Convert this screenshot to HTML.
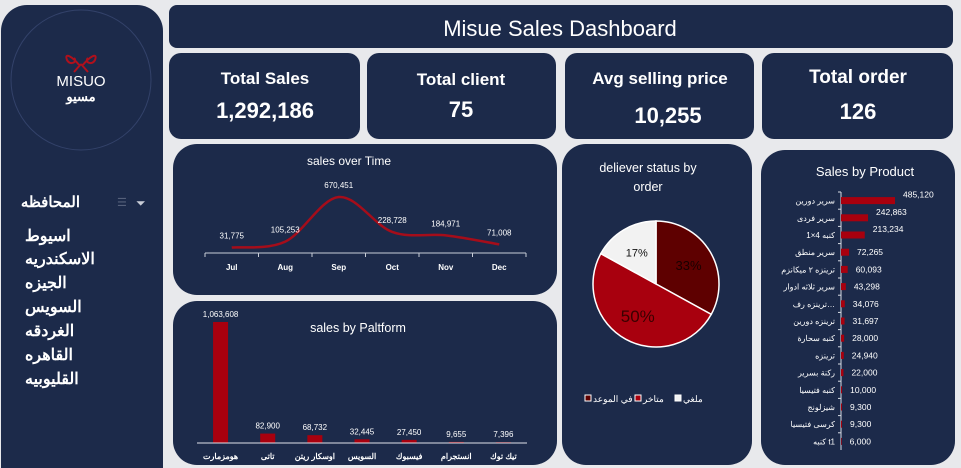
<!DOCTYPE html>
<html><head><meta charset="utf-8">
<style>
html,body{margin:0;padding:0;background:#e8e9ec;width:961px;height:468px;overflow:hidden;font-family:"Liberation Sans","Noto Sans CJK SC",sans-serif}
svg{display:block}
svg text{font-family:"Liberation Sans","Noto Sans CJK SC",sans-serif}
</style></head><body>
<svg width="961" height="468" viewBox="0 0 961 468" xmlns="http://www.w3.org/2000/svg">
<!-- sidebar -->
<g>
<path d="M1 31 A26 26 0 0 1 27 5 L137 5 A26 26 0 0 1 163 31 L163 468 L1 468 Z" fill="#1c2a4a"/>
<circle cx="81" cy="80" r="70" fill="none" stroke="#33426a" stroke-width="1"/>
<g>
<path d="M80 66 C72 56 64 52 67 60 C70 66 78 62 74 58 M82 66 C90 56 98 52 95 60 C92 66 84 62 88 58 M81 64 L74 72 M81 64 L88 72" stroke="#b0101c" stroke-width="2" fill="none"/>
<text x="81" y="86" text-anchor="middle" font-family="Liberation Serif" font-size="15" fill="#ffffff">MISUO</text>
<text x="81" y="101" text-anchor="middle" font-size="13" font-weight="bold" fill="#ffffff">مسيو</text>
</g>
<text x="80" y="207" text-anchor="end" font-size="15" font-weight="bold" fill="#ffffff">المحافظه</text>
<text x="117" y="206" font-size="11" fill="#55607a">☰</text>
<text x="136" y="207" font-size="12" fill="#c8ccd6">⏷</text>
<g font-size="16" font-weight="bold" fill="#ffffff" text-anchor="start">
<text x="25" y="241">اسيوط</text>
<text x="25" y="264">الاسكندريه</text>
<text x="25" y="288">الجيزه</text>
<text x="25" y="312">السويس</text>
<text x="25" y="336">الغردقه</text>
<text x="25" y="360">القاهره</text>
<text x="25" y="384">القليوبيه</text>
</g>
</g>
<!-- title -->
<rect x="169" y="5" width="784" height="43" rx="8" fill="#1c2a4a"/>
<text x="560" y="36" text-anchor="middle" font-size="22" fill="#ffffff">Misue Sales Dashboard</text>
<!-- KPI cards -->
<g>
<rect x="169" y="53" width="191" height="86" rx="12" fill="#1c2a4a"/>
<text x="265" y="84" text-anchor="middle" font-size="17" font-weight="bold" fill="#fff">Total Sales</text>
<text x="265" y="118" text-anchor="middle" font-size="22" font-weight="bold" fill="#fff">1,292,186</text>
</g>
<g>
<rect x="367" y="53" width="189" height="86" rx="12" fill="#1c2a4a"/>
<text x="461" y="85" text-anchor="middle" font-size="17" font-weight="bold" fill="#fff">Total client</text>
<text x="461" y="117" text-anchor="middle" font-size="22" font-weight="bold" fill="#fff">75</text>
</g>
<g>
<rect x="565" y="53" width="189" height="86" rx="12" fill="#1c2a4a"/>
<text x="660" y="84" text-anchor="middle" font-size="17" font-weight="bold" fill="#fff">Avg  selling price</text>
<text x="668" y="123" text-anchor="middle" font-size="22" font-weight="bold" fill="#fff">10,255</text>
</g>
<g>
<rect x="762" y="53" width="191" height="86" rx="12" fill="#1c2a4a"/>
<text x="858" y="83" text-anchor="middle" font-size="19" font-weight="bold" fill="#fff">Total order</text>
<text x="858" y="119" text-anchor="middle" font-size="22" font-weight="bold" fill="#fff">126</text>
</g>
<!-- panels -->
<rect x="173" y="144" width="384" height="151" rx="24" fill="#1c2a4a"/>
<text x="349" y="165" text-anchor="middle" font-size="12" fill="#fff">sales over Time</text>
<rect x="173" y="301" width="384" height="164" rx="24" fill="#1c2a4a"/>
<text x="358" y="332" text-anchor="middle" font-size="12.5" fill="#fff">sales by Paltform</text>
<rect x="562" y="144" width="190" height="321" rx="24" fill="#1c2a4a"/>
<text x="648" y="172" text-anchor="middle" font-size="12.5" fill="#fff">deliever status by</text>
<text x="648" y="191" text-anchor="middle" font-size="12.5" fill="#fff">order</text>
<rect x="761" y="150" width="194" height="315" rx="24" fill="#1c2a4a"/>
<text x="865" y="176" text-anchor="middle" font-size="13" fill="#fff">Sales by Product</text>
<g id="lineG"></g><g id="platG"></g><g id="pieG"></g><g id="prodG"></g>
</svg>
<script>
const months=["Jul","Aug","Sep","Oct","Nov","Dec"];
const monthSales=[31775,105253,670451,228728,184971,71008];
const monthLabels=["31,775","105,253","670,451","228,728","184,971","71,008"];
const platforms=["هومزمارت","تاتى","اوسكار ريتن","السويس","فيسبوك","انستجرام","تيك توك"];
const platformSales=[1063608,82900,68732,32445,27450,9655,7396];
const platformLabels=["1,063,608","82,900","68,732","32,445","27,450","9,655","7,396"];
const statusNames=["في الموعد","متاخر","ملغي"];
const statusShares=[33,50,17];
const products=["سرير دورين","سرير فردى","كنبه 4×1","سرير منطق","ترينزه ٢ ميكانزم","سرير ثلاثه ادوار","ترينزه رف…","ترينزه دورين","كنبه سحارة","ترينزه","ركنة بسرير","كنبه فتيسيا","شيزلونج","كرسى فتيسيا","كنبه t1"];
const productSales=[485120,242863,213234,72265,60093,43298,34076,31697,28000,24940,22000,10000,9300,9300,6000];

const NS="http://www.w3.org/2000/svg";
function mk(p,tag,a,txt){const e=document.createElementNS(NS,tag);for(const k in a)e.setAttribute(k,a[k]);if(txt!==undefined)e.textContent=txt;p.appendChild(e);return e;}

// line chart
(function(){
 const g=document.getElementById('lineG');
 const x0=205,x1=526,yb=253,step=(x1-x0)/months.length;
 const xs=i=>x0+step*(i+0.5), ys=v=>yb-3-v*(53/670451);
 const ax=mk(g,'line',{x1:x0,y1:yb,x2:x1,y2:yb,stroke:'#c8cdd8','stroke-width':1});
 
 for(let i=0;i<=months.length;i++){const t=mk(g,'line',{x1:x0+step*i,y1:yb,x2:x0+step*i,y2:yb+4,stroke:'#c8cdd8'});
  }
 const P=monthSales.map((v,i)=>[xs(i),ys(v)]);
 let d='M'+P[0][0]+' '+P[0][1];
 for(let i=0;i<P.length-1;i++){const p0=P[Math.max(i-1,0)],p1=P[i],p2=P[i+1],p3=P[Math.min(i+2,P.length-1)];
  d+=` C${p1[0]+(p2[0]-p0[0])/6} ${p1[1]+(p2[1]-p0[1])/6} ${p2[0]-(p3[0]-p1[0])/6} ${p2[1]-(p3[1]-p1[1])/6} ${p2[0]} ${p2[1]}`;}
 const ln=mk(g,'path',{d:d,fill:'none',stroke:'#a50d1a','stroke-width':2.5});
 
 monthSales.forEach((v,i)=>{
  const t=mk(g,'text',{x:xs(i),y:yb+17,'text-anchor':'middle','font-size':8,'font-weight':'bold',fill:'#fff'},months[i]);
  
  const l=mk(g,'text',{x:xs(i),y:ys(v)-9,'text-anchor':'middle','font-size':8,fill:'#fff'},monthLabels[i]);
  
 });
})();

// platform bars
(function(){
 const g=document.getElementById('platG');
 const x0=197,x1=527,yb=443,step=(x1-x0)/platforms.length,bw=15;
 const hs=v=>v*(121/1063608);
 platformSales.forEach((v,i)=>{
  const cx=x0+step*(i+0.5);
  const r=mk(g,'rect',{x:cx-bw/2,y:yb-hs(v),width:bw,height:hs(v),fill:'#a8000e'});
  
  const l=mk(g,'text',{x:cx,y:yb-hs(v)-5,'text-anchor':'middle','font-size':8,fill:'#fff'},platformLabels[i]);
  
  const c=mk(g,'text',{x:cx,y:yb+16,'text-anchor':'middle','font-size':8,'font-weight':'bold',fill:'#fff'},platforms[i]);
  
 });
 const ax=mk(g,'line',{x1:x0,y1:yb,x2:x1,y2:yb,stroke:'#e0e3ea'});
 
})();

// pie
(function(){
 const g=document.getElementById('pieG');
 const cx=656,cy=284,r=63,cols=['#5e0000','#a8000e','#f2f2f2'],tc=['#1a0000','#3a0000','#111'],fs=[13,17,11];
 const total=statusShares.reduce((a,b)=>a+b,0);let a=-Math.PI/2;
 statusShares.forEach((v,i)=>{
  const a2=a+v/total*2*Math.PI;
  const p=mk(g,'path',{d:`M${cx} ${cy} L${cx+r*Math.cos(a)} ${cy+r*Math.sin(a)} A${r} ${r} 0 ${a2-a>Math.PI?1:0} 1 ${cx+r*Math.cos(a2)} ${cy+r*Math.sin(a2)} Z`,fill:cols[i],stroke:'#fff','stroke-width':1.5});
  
  const m=(a+a2)/2,rr=r*0.6;
  const t=mk(g,'text',{x:cx+rr*Math.cos(m),y:cy+rr*Math.sin(m)+5,'text-anchor':'middle','font-size':fs[i],fill:tc[i]},v+'%');
  
  a=a2;
 });
 const lx=[610,660,700];
 statusNames.forEach((n,i)=>{
  const s=mk(g,'rect',{x:lx[i]-25,y:395,width:6,height:6,fill:cols[i],stroke:'#fff','stroke-width':1});
  
  const t=mk(g,'text',{x:lx[i]-17,y:402,'font-size':9,fill:'#fff'},n);
  
 });
})();

// product bars
(function(){
 const g=document.getElementById('prodG');
 const ax0=841,y0=192,y1=450,step=(y1-y0)/products.length;
 const ws=v=>v*(54/485120);
 const ax=mk(g,'line',{x1:ax0,y1:y0,x2:ax0,y2:y1,stroke:'#d8dce4'});
 
 productSales.forEach((v,i)=>{
  const cy=y0+step*(i+0.5);
  const tk=mk(g,'line',{x1:ax0-3,y1:y0+step*i,x2:ax0,y2:y0+step*i,stroke:'#d8dce4'});
  
  const r=mk(g,'rect',{x:ax0,y:cy-3.5,width:ws(v),height:7,fill:'#a8000e'});
  
  const c=mk(g,'text',{x:ax0-6,y:cy+3,'text-anchor':'end','font-size':8,fill:'#fff'},products[i]);
  
  const l=mk(g,'text',{x:Math.max(ax0+ws(v)+8,ax0+5),y:cy+(i<3?-3:3),'font-size':8.5,fill:'#fff'},v.toLocaleString('en-US'));
  
 });
})();
</script>
</body></html>
